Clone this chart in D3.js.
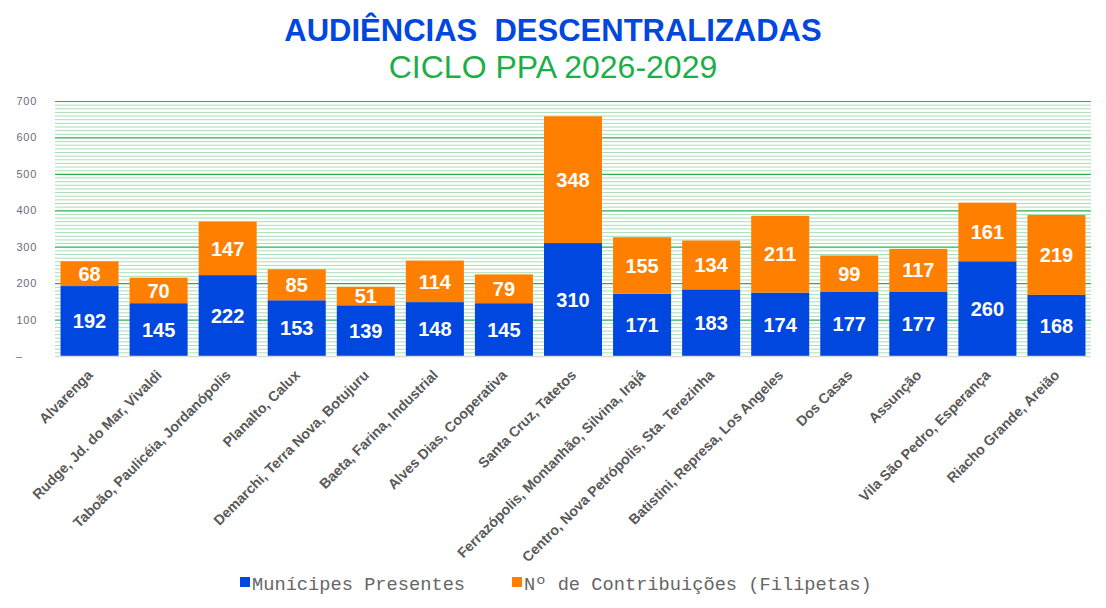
<!DOCTYPE html>
<html>
<head>
<meta charset="utf-8">
<script src="https://cdn.jsdelivr.net/npm/d3@7"></script>
<style>
  html, body { margin: 0; padding: 0; background: #fff; }
  svg { display: block; }
</style>
</head>
<body>
<svg id="chart" width="1106" height="608"></svg>
<script>
// data
const categories = [
  "Alvarenga",
  "Rudge, Jd. do Mar, Vivaldi",
  "Taboão, Paulicéia, Jordanópolis",
  "Planalto, Calux",
  "Demarchi, Terra Nova, Botujuru",
  "Baeta, Farina, Industrial",
  "Alves Dias, Cooperativa",
  "Santa Cruz, Tatetos",
  "Ferrazópolis, Montanhão, Silvina, Irajá",
  "Centro, Nova Petrópolis, Sta. Terezinha",
  "Batistini, Represa, Los Angeles",
  "Dos Casas",
  "Assunção",
  "Vila São Pedro, Esperança",
  "Riacho Grande, Areião"
];
const municipes = [192, 145, 222, 153, 139, 148, 145, 310, 171, 183, 174, 177, 177, 260, 168];
const contribuicoes = [68, 70, 147, 85, 51, 114, 79, 348, 155, 134, 211, 99, 117, 161, 219];
const seriesNames = ["Munícipes Presentes", "Nº de Contribuições (Filipetas)"];
const yTicks = [0, 100, 200, 300, 400, 500, 600, 700];
const yTickLabels = ["–", "100", "200", "300", "400", "500", "600", "700"];

const colors = ["#0047DF", "#FF7F00"];

const svg = d3.select("#chart");
const plotLeft = 55, plotRight = 1091, plotTop = 101, plotBottom = 356;

const x = d3.scaleBand().domain(categories).range([plotLeft, plotRight]).paddingInner(0.16).paddingOuter(0.08);
const y = d3.scaleLinear().domain([0, 700]).range([plotBottom, plotTop]);

// titles
svg.append("text")
  .attr("x", 553).attr("y", 41)
  .attr("text-anchor", "middle")
  .attr("font-family", "Liberation Sans, Arial, sans-serif")
  .attr("font-weight", "bold")
  .attr("font-size", 31)
  .attr("fill", "#0047DF")
  .attr("xml:space", "preserve")
  .text("AUDIÊNCIAS  DESCENTRALIZADAS");

svg.append("text")
  .attr("x", 553).attr("y", 78)
  .attr("text-anchor", "middle")
  .attr("font-family", "Liberation Sans, Arial, sans-serif")
  .attr("font-size", 32)
  .attr("fill", "#1EAE48")
  .text("CICLO PPA 2026-2029");

// gridlines: minor every 10, major every 100
const minor = d3.range(10, 700, 10).filter(v => v % 100 !== 0);
svg.append("g").selectAll("line").data(minor).join("line")
  .attr("x1", plotLeft).attr("x2", plotRight)
  .attr("y1", d => y(d) + 0.5).attr("y2", d => y(d) + 0.5)
  .attr("stroke", "#A9DDB6").attr("stroke-width", 1);

svg.append("g").selectAll("line").data(yTicks.slice(1)).join("line")
  .attr("x1", plotLeft).attr("x2", plotRight)
  .attr("y1", d => y(d) + 0.5).attr("y2", d => y(d) + 0.5)
  .attr("stroke", "#2DB04C").attr("stroke-width", 1.2);

// y axis labels
const yAxis = d3.axisLeft(y).tickValues(yTicks).tickSize(0).tickPadding(0)
  .tickFormat((d, i) => yTickLabels[i]);
const yg = svg.append("g").attr("transform", `translate(37,0)`).call(yAxis);
yg.select(".domain").remove();
yg.selectAll("text")
  .attr("font-family", "Liberation Sans, Arial, sans-serif")
  .attr("font-size", 11)
  .attr("letter-spacing", "0.7px")
  .attr("fill", "#6B6B7B");
yg.selectAll(".tick").filter(d => d === 0).select("text")
  .attr("text-anchor", "start").attr("x", -21);

// stacked bars
const rows = categories.map((c, i) => ({cat: c, a: municipes[i], b: contribuicoes[i]}));
const stack = d3.stack().keys(["a", "b"])(rows);

const layers = svg.append("g").selectAll("g").data(stack).join("g")
  .attr("fill", (d, i) => colors[i]);

layers.selectAll("rect").data(d => d).join("rect")
  .attr("x", d => x(d.data.cat))
  .attr("width", x.bandwidth())
  .attr("y", d => y(d[1]))
  .attr("height", d => y(d[0]) - y(d[1]));

layers.selectAll("text").data(d => d).join("text")
  .attr("x", d => x(d.data.cat) + x.bandwidth() / 2)
  .attr("y", d => (y(d[0]) + y(d[1])) / 2)
  .attr("dy", "0.36em")
  .attr("text-anchor", "middle")
  .attr("font-family", "Liberation Sans, Arial, sans-serif")
  .attr("font-weight", "bold")
  .attr("font-size", 20)
  .attr("fill", "#fff")
  .text(d => d[1] - d[0]);

// baseline
svg.append("line")
  .attr("x1", plotLeft).attr("x2", plotRight)
  .attr("y1", plotBottom + 0.5).attr("y2", plotBottom + 0.5)
  .attr("stroke", "#D9D9D9").attr("stroke-width", 1.5);

// x labels, rotated
const xAxis = d3.axisBottom(x).tickSize(0).tickPadding(0);
const xg = svg.append("g").attr("transform", `translate(0,${plotBottom})`).call(xAxis);
xg.select(".domain").remove();
xg.selectAll("text")
  .attr("font-family", "Liberation Sans, Arial, sans-serif")
  .attr("font-weight", "bold")
  .attr("font-size", 14.2)
  .attr("fill", "#595959")
  .attr("text-anchor", "end")
  .attr("dy", null)
  .attr("transform", "translate(4,20) rotate(-45)");

// legend
const legend = svg.append("g")
  .attr("font-family", "Liberation Mono, Courier New, monospace")
  .attr("font-size", 18.7)
  .attr("fill", "#666666");
const legendX = [240, 512];
seriesNames.forEach((name, i) => {
  legend.append("rect")
    .attr("x", legendX[i]).attr("y", 577)
    .attr("width", 10).attr("height", 10)
    .attr("fill", colors[i]);
  legend.append("text")
    .attr("x", legendX[i] + 12).attr("y", 590)
    .text(name);
});
</script>
</body>
</html>
